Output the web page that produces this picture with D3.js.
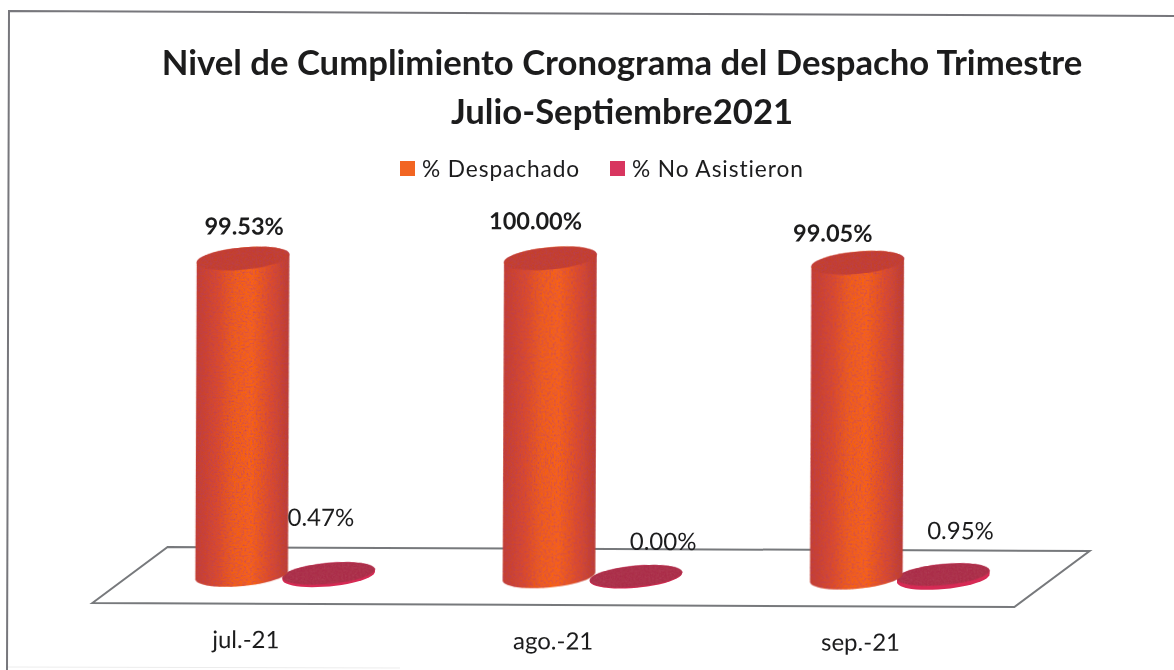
<!DOCTYPE html>
<html>
<head>
<meta charset="utf-8">
<script src="https://d3js.org/d3.v7.min.js"></script>
<style>
 html, body { margin: 0; padding: 0; background: #fff; overflow: hidden; }
 text { font-family: Lato, "Open Sans", sans-serif; fill: #1c1c1e; }
</style>
</head>
<body>
<svg id="chart" width="1174" height="670"></svg>
<script>
const categories = ["jul.-21", "ago.-21", "sep.-21"];
const seriesNames = ["% Despachado", "% No Asistieron"];
const despachado = [99.53, 100.00, 99.05];
const noAsistieron = [0.47, 0.00, 0.95];
const titleLines = ["Nivel de Cumplimiento Cronograma del Despacho Trimestre", "Julio-Septiembre2021"];

const svg = d3.select("#chart");
const defs = svg.append("defs");

// the scan is a little soft
defs.append("filter").attr("id", "soft").append("feGaussianBlur").attr("stdDeviation", 0.55);

// printed grain on the cylinders
const grain = defs.append("filter").attr("id", "grain");
grain.append("feTurbulence").attr("type", "fractalNoise").attr("baseFrequency", 0.55)
 .attr("numOctaves", 2).attr("seed", 4).attr("result", "noise");
grain.append("feColorMatrix").attr("in", "noise").attr("type", "matrix")
 .attr("values", "0 0 0 0 0.45  0 0 0 0 0.05  0 0 0 0 0.1  0 0 0 1.6 -0.62").attr("result", "dots");
grain.append("feComposite").attr("in", "dots").attr("in2", "SourceAlpha").attr("operator", "in").attr("result", "clipped");
const merge = grain.append("feMerge");
merge.append("feMergeNode").attr("in", "SourceGraphic");
merge.append("feMergeNode").attr("in", "clipped");

const body = defs.append("linearGradient").attr("id", "body");
[[0, "#c4402e"], [0.2, "#d8482a"], [0.42, "#f4600e"], [0.6, "#fb6406"], [0.82, "#dc4c28"], [1, "#bd3e2e"]]
 .forEach(d => body.append("stop").attr("offset", d[0]).attr("stop-color", d[1]));

const page = svg.append("g").attr("filter", "url(#soft)");

// page frame, slightly crooked like the scan
page.append("path")
 .attr("d", "M1174,16L9,11L7,670")
 .attr("fill", "none").attr("stroke", "#77777c").attr("stroke-width", 2);
page.append("path")
 .attr("d", "M8,667L400,668")
 .attr("fill", "none").attr("stroke", "#ececec").attr("stroke-width", 1);

// title
page.selectAll(".title").data(titleLines).join("text")
 .attr("class", "title")
 .attr("x", 622)
 .attr("y", (d, i) => 75 + i * 49)
 .attr("text-anchor", "middle")
 .attr("font-size", 34.7)
 .attr("font-weight", 700)
 .text(d => d);

// legend
const legendSwatch = ["#f26522", "#d8345e"];
const legendX = [400, 610];
const legend = page.selectAll(".legend").data(seriesNames).join("g")
 .attr("class", "legend")
 .attr("transform", (d, i) => `translate(${legendX[i]},169)`);
legend.append("rect").attr("x", 0).attr("y", -8).attr("width", 15).attr("height", 15)
 .attr("fill", (d, i) => legendSwatch[i]);
legend.append("text").attr("x", 22).attr("y", 8)
 .attr("font-size", 22.7)
 .attr("letter-spacing", 0.9)
 .text(d => d);

// plot, tilted by the scan
const plot = page.append("g").attr("transform", "rotate(0.25)");

const frontY = 602.6, backY = 546.3, floorDepth = 75;
const frontLeft = 95, frontRight = 1017;

plot.append("path")
 .attr("d", `M${frontLeft},${frontY}L${frontLeft + floorDepth},${backY}L${frontRight + floorDepth},${backY}L${frontRight},${frontY}Z`)
 .attr("fill", "#ffffff").attr("stroke", "#77797c").attr("stroke-width", 2);

const x0 = d3.scaleBand().domain(categories).range([frontLeft, frontRight]);
const x1 = d3.scaleBand().domain(seriesNames).range([-48, 126]);
const y = d3.scaleLinear().domain([0, 100]).range([574, 256]);

const rx = 46.5, ry = 11, tiltDeg = -5.5, tilt = tiltDeg * Math.PI / 180;
const outline = d3.line();

function rim(cx, cy, from, to) {
 return d3.range(25).map(k => {
  const t = from + (to - from) * k / 24;
  return [cx + rx * Math.cos(t) * Math.cos(tilt) - ry * Math.sin(t) * Math.sin(tilt),
   cy + rx * Math.cos(t) * Math.sin(tilt) + ry * Math.sin(t) * Math.cos(tilt)];
 });
}

// side of the cylinder: top rim over the back, bottom rim under the front
function cylinder(cx, value) {
 return outline(rim(cx, y(value), Math.PI, 2 * Math.PI).concat(rim(cx, y(0), 0, Math.PI))) + "Z";
}

function seriesX(cat, name) {
 return x0(cat) + x0.bandwidth() / 2 + x1(name) + x1.bandwidth() / 2;
}

const groups = plot.selectAll(".cat").data(categories).join("g").attr("class", "cat");

// thin rim under the flat discs
groups.append("path")
 .attr("d", (d, i) => cylinder(seriesX(d, seriesNames[1]), noAsistieron[i]))
 .attr("fill", "#d62c54");
groups.append("ellipse")
 .attr("rx", rx).attr("ry", ry - 0.4)
 .attr("transform", (d, i) => `translate(${seriesX(d, seriesNames[1])},${y(noAsistieron[i]) - 0.5}) rotate(${tiltDeg})`)
 .attr("fill", "#aa2f48")
 .attr("filter", "url(#grain)");

// main cylinders
groups.append("path")
 .attr("d", (d, i) => cylinder(seriesX(d, seriesNames[0]), despachado[i]))
 .attr("fill", "url(#body)")
 .attr("filter", "url(#grain)");
groups.append("ellipse")
 .attr("rx", rx).attr("ry", ry)
 .attr("transform", (d, i) => `translate(${seriesX(d, seriesNames[0])},${y(despachado[i])}) rotate(${tiltDeg})`)
 .attr("fill", "#c53f2b")
 .attr("filter", "url(#grain)");

// labels were dragged by hand in the original, so each has its own offset
const mainLabelDx = [1, -15, -25];
const mainLabelDy = [-24, -29, -21];
const lowLabelDx = [-8, 27, 17];
const lowLabelDy = [-48, -27, -36];
const fmt = v => v.toFixed(2) + "%";

groups.append("text")
 .attr("x", (d, i) => seriesX(d, seriesNames[0]) + mainLabelDx[i])
 .attr("y", (d, i) => y(despachado[i]) + mainLabelDy[i])
 .attr("text-anchor", "middle")
 .attr("font-size", 23.5).attr("font-weight", 700)
 .text((d, i) => fmt(despachado[i]));

groups.append("text")
 .attr("x", (d, i) => seriesX(d, seriesNames[1]) + lowLabelDx[i])
 .attr("y", (d, i) => y(noAsistieron[i]) + lowLabelDy[i])
 .attr("text-anchor", "middle")
 .attr("font-size", 24)
 .text((d, i) => fmt(noAsistieron[i]));

// category axis, no line
const axis = plot.append("g").attr("transform", "translate(0,647)")
 .call(d3.axisBottom(x0).tickSize(0).tickPadding(0));
axis.select(".domain").remove();
axis.selectAll("text").attr("font-size", 24).attr("dy", 0).attr("y", 0)
 .style("font-family", "Lato, sans-serif");
</script>
</body>
</html>
